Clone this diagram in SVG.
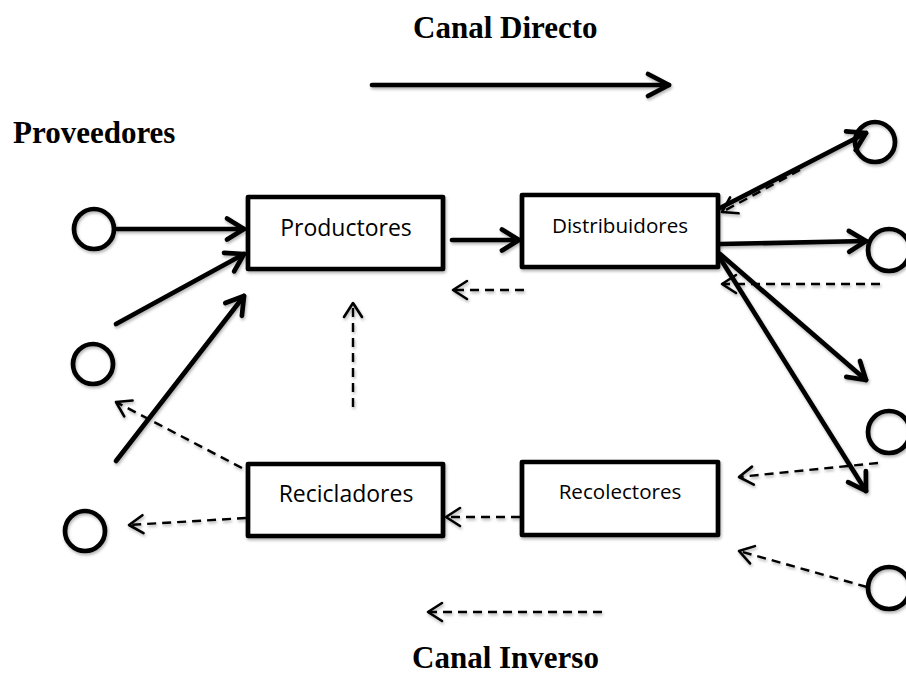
<svg xmlns="http://www.w3.org/2000/svg" width="906" height="675" viewBox="0 0 906 675">
  <style>
    .title { font-family: "Liberation Serif", "Times New Roman", serif; font-weight: bold; font-size: 31px; fill: #000; }
    .lbl { font-family: "Open Sans", "Liberation Sans", sans-serif; fill: #000; text-anchor: middle; }
    .big { font-size: 23px; }
    .small { font-size: 20.6px; }
    .box { fill: #fff; stroke: #000; stroke-width: 4.7; stroke-linejoin: round; }
    .node { fill: none; stroke: #000; stroke-width: 4.7; }
    .solid { fill: none; stroke: #000; stroke-width: 4.7; stroke-linecap: round; marker-end: url(#head); }
    .dash { fill: none; stroke: #000; stroke-width: 2.4; stroke-dasharray: 9 6; marker-end: url(#headThin); }
    .sh { filter: url(#shadow); }
  </style>
  <defs>
    <filter id="shadow" x="-20%" y="-20%" width="140%" height="140%">
      <feDropShadow dx="1" dy="2" stdDeviation="1.4" flood-color="#000" flood-opacity="0.3"/>
    </filter>
    <marker id="head" markerUnits="userSpaceOnUse" orient="auto" refX="0" refY="0" markerWidth="40" markerHeight="40" viewBox="-30 -20 40 40" overflow="visible">
      <path d="M -17 -10.5 L 0 0 L -17 10.5" fill="none" stroke="#000" stroke-width="4.7" stroke-linecap="round" stroke-linejoin="round"/>
    </marker>
    <marker id="headBig" markerUnits="userSpaceOnUse" orient="auto" refX="0" refY="0" markerWidth="40" markerHeight="40" viewBox="-30 -20 40 40" overflow="visible">
      <path d="M -21 -11 L 0 0 L -21 11" fill="none" stroke="#000" stroke-width="4.7" stroke-linecap="round" stroke-linejoin="round"/>
    </marker>
    <marker id="headThin" markerUnits="userSpaceOnUse" orient="auto" refX="0" refY="0" markerWidth="40" markerHeight="40" viewBox="-30 -20 40 40" overflow="visible">
      <path d="M -14 -9 L 0 0 L -14 9" fill="none" stroke="#000" stroke-width="2.6" stroke-linecap="round" stroke-linejoin="round"/>
    </marker>
  </defs>

  <rect width="906" height="675" fill="#fff"/>

  <!-- headings -->
  <text class="title" x="413" y="38">Canal Directo</text>
  <text class="title" x="13" y="143">Proveedores</text>
  <text class="title" x="412" y="668">Canal Inverso</text>

  <!-- connectors -->
  <g id="connectors" class="sh">
    <!-- direct channel legend -->
    <line class="solid" x1="372" y1="85" x2="669" y2="85" style="marker-end:url(#headBig)"/>
    <!-- suppliers to producers -->
    <line class="solid" x1="117" y1="229" x2="244" y2="229"/>
    <line class="solid" x1="116" y1="324" x2="244" y2="254"/>
    <line class="solid" x1="116" y1="461" x2="244" y2="296"/>
    <!-- producers to distributors -->
    <line class="solid" x1="452" y1="240" x2="519" y2="240"/>
    <!-- returns toward distributors (drawn under the forward arrows) -->
    <line class="dash" x1="800" y1="170" x2="722" y2="212"/>
    <line class="dash" x1="880" y1="284" x2="722" y2="284"/>
    <!-- distributors to customers -->
    <line class="solid" x1="720" y1="208" x2="866" y2="133"/>
    <line class="solid" x1="720" y1="244" x2="866" y2="241"/>
    <line class="solid" x1="720" y1="254" x2="866" y2="380"/>
    <line class="solid" x1="720" y1="258" x2="866" y2="491"/>
    <!-- reverse flows -->
    <line class="dash" x1="524" y1="290" x2="453" y2="290"/>
    <line class="dash" x1="353" y1="407" x2="353" y2="303"/>
    <line class="dash" x1="878" y1="463" x2="739" y2="477"/>
    <line class="dash" x1="867" y1="587" x2="739" y2="551"/>
    <line class="dash" x1="520" y1="517" x2="446" y2="517"/>
    <line class="dash" x1="246" y1="518" x2="129" y2="525"/>
    <line class="dash" x1="242" y1="468" x2="116" y2="402"/>
    <!-- reverse channel legend -->
    <line class="dash" x1="602" y1="612" x2="428" y2="612"/>
  </g>

  <!-- nodes -->
  <g id="productores">
    <rect class="box sh" x="248" y="197" width="195" height="72"/>
    <text class="lbl big" x="346" y="236">Productores</text>
  </g>
  <g id="distribuidores">
    <rect class="box sh" x="522" y="195" width="196" height="72"/>
    <text class="lbl small" x="620" y="233">Distribuidores</text>
  </g>
  <g id="recicladores">
    <rect class="box sh" x="248" y="464" width="195" height="72"/>
    <text class="lbl big" x="346" y="502">Recicladores</text>
  </g>
  <g id="recolectores">
    <rect class="box sh" x="522" y="462" width="196" height="73"/>
    <text class="lbl small" x="620" y="499">Recolectores</text>
  </g>

  <g id="proveedor-1"><circle class="node sh" cx="94" cy="229" r="20"/></g>
  <g id="proveedor-2"><circle class="node sh" cx="93" cy="364" r="20"/></g>
  <g id="proveedor-3"><circle class="node sh" cx="85" cy="531" r="20"/></g>

  <g id="cliente-1"><circle class="node sh" cx="875" cy="142" r="20"/></g>
  <g id="cliente-2"><circle class="node sh" cx="889" cy="250" r="21"/></g>
  <g id="cliente-3"><circle class="node sh" cx="889" cy="432" r="21"/></g>
  <g id="cliente-4"><circle class="node sh" cx="889" cy="588" r="21"/></g>
</svg>
